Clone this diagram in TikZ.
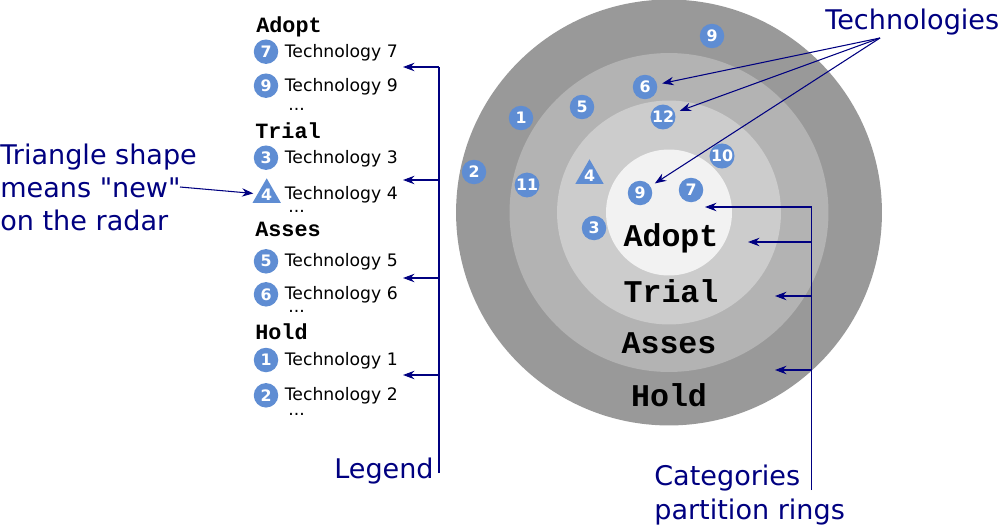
\documentclass[tikz,border=0pt]{standalone}
\usepackage{fontspec}
\setmainfont{DejaVu Sans}[Ligatures=TeXOff]
\newfontfamily\ringmono{Liberation Mono}
\usetikzlibrary{positioning,arrows.meta,shapes.geometric,calc}
\definecolor{techblue}{HTML}{5F8DD3}
\definecolor{notenavy}{HTML}{000080}
\definecolor{ringhold}{HTML}{999999}
\definecolor{ringasses}{HTML}{B3B3B3}
\definecolor{ringtrial}{HTML}{CCCCCC}
\definecolor{ringadopt}{HTML}{F2F2F2}
\tikzset{
ring/.style={circle, draw=none, inner sep=0pt},
tech/.style={
  circle, fill=techblue, text=white, inner sep=0pt,
  minimum size=0.49cm, font=\fontsize{9}{10}\selectfont\bfseries
},
newtech/.style={
  regular polygon, regular polygon sides=3, fill=techblue, text=white,
  inner sep=0pt, minimum size=0.62cm, font=\fontsize{9}{10}\selectfont\bfseries
},
ringname/.style={anchor=base, inner sep=0pt, font=\ringmono\bfseries\fontsize{18}{20}\selectfont},
leghead/.style={anchor=base west, inner sep=0pt, font=\ringmono\bfseries\fontsize{12.4}{14}\selectfont},
legitem/.style={anchor=base west, inner sep=0pt, font=\fontsize{9.8}{11}\selectfont},
note/.style={text=notenavy, inner sep=0pt, align=left, font=\fontsize{15.4}{18.9}\selectfont},
bracket/.style={draw=notenavy, line width=0.6pt},
pointer/.style={bracket, -{Stealth[length=6.5pt,width=4.8pt]}},
}

\begin{document}
\begin{tikzpicture}[x=0.02cm, y=-0.02cm]
\useasboundingbox (0,0) rectangle (1000,524);
\node[ring, fill=ringhold,  minimum size=8.52cm] (hold)  at (669,212.5) {};
\node[ring, fill=ringasses, minimum size=6.38cm] (asses) at (669,212.5) {};
\node[ring, fill=ringtrial, minimum size=4.48cm] (trial) at (669,212.5) {};
\node[ring, fill=ringadopt, minimum size=2.52cm] (adopt) at (669,212.5) {};
\node[ringname] (adoptname) at (671,246) {Adopt};
\node[ringname] (trialname) at (671,302.7) {Trial};
\node[ringname] (assesname) at (669,353.3) {Asses};
\node[ringname] (holdname)  at (669,406) {Hold};
\foreach \name/\num/\x/\y in {r9a/9/712/36, r6/6/645/87, r5/5/582/107, r1/1/521/118,
    r12/12/663/117, r10/10/722/156, r2/2/474/172, r11/11/527/185,
    r9/9/640/193, r7/7/691/190, r3/3/594/228}
  \node[tech] (\name) at (\x,\y) {\num};
\node[newtech] (r4) at (589.5,175.6) {4};

\node[leghead] (hadopt) at (256,32.3) {Adopt};
\node[leghead] (htrial) at (255,138.3) {Trial};
\node[leghead] (hasses) at (255,236) {Asses};
\node[leghead] (hhold)  at (255,339.3) {Hold};
\foreach \num/\y in {7/51.7, 9/85.7, 3/157.7, 5/261.3, 6/294.3, 1/360, 2/395.3} {
  \node[tech] (l\num) at (266,\y) {\num};
  \node[legitem] (t\num) at (284.5,\y+5.6) {Technology \num};
}
\node[newtech] (l4) at (266.7,194.6) {4};
\node[legitem] (t4) at (284.5,199.3) {Technology 4};
\foreach \y [count=\i] in {110,212,312.5,415}
  \node[legitem] (dots\i) at (288,\y) {...};

\node[note, anchor=base west] (technote) at (825,29.3) {Technologies};
\node[note, anchor=north west] (newnote) at (0,143.3) {Triangle shape\\means "new"\\on the radar};
\node[note, anchor=north west] (catnote) at (654,465) {Categories\\partition rings};
\node[note, anchor=base east] (legnote) at (434,478.3) {Legend};

\coordinate (techsrc) at (880,38);
\foreach \target in {r6,r12,r9}
  \draw[pointer, shorten >=0.1cm] (techsrc) -- (\target);
\coordinate (newsrc) at (180,187);
\draw[pointer, shorten >=0.08cm] (newsrc) -- (l4);

\coordinate (legtop) at (439,67);
\coordinate (legbot) at (439,473);
\draw[bracket] (legbot) -- (legtop);
\foreach \y [count=\i] in {67,180,278,375} {
  \coordinate (lf\i) at (439,\y);
  \coordinate (lt\i) at (403,\y);
  \draw[pointer] (lf\i) -- (lt\i);
}
\coordinate (cattop) at (811.5,207);
\coordinate (catbot) at (811.5,490);
\draw[bracket] (catbot) -- (cattop);
\foreach \y/\tx [count=\i] in {207/705, 242/748, 296/775, 370/775} {
  \coordinate (cf\i) at (811.5,\y);
  \coordinate (ct\i) at (\tx,\y);
  \draw[pointer] (cf\i) -- (ct\i);
}
\end{tikzpicture}
\end{document}
